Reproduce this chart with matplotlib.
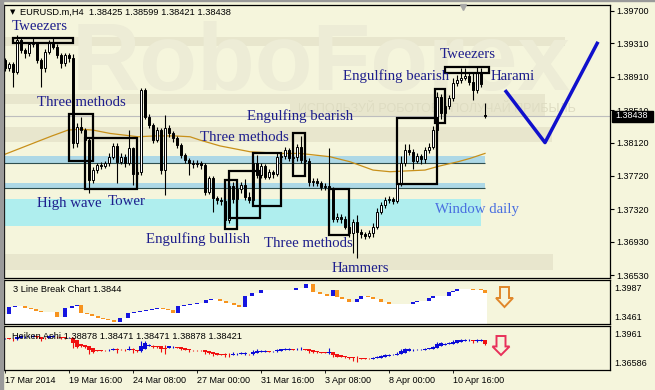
import numpy as np
import matplotlib.pyplot as plt
from matplotlib.patches import Rectangle, Polygon

plt.rcParams['font.family'] = ['Liberation Sans', 'DejaVu Sans']

W, H = 655, 390
BG = '#F5F5DC'

# ---------------------------------------------------------------- data
# EURUSD.m H4, bar 0 = 17 Mar 2014 00:00, prices in pips above 1.3600
first_open = 311
closes = [301, 306, 297, 335, 323, 319, 330, 331, 311, 301,
          321, 331, 327, 317, 307, 317, 313, 211, 231, 227,
          215, 167, 179, 185, 184, 187, 195, 208, 189, 195,
          187, 205, 174, 177, 275, 243, 233, 215, 227, 179,
          229, 223, 217, 209, 197, 191, 187, 186, 187, 185,
          153, 169, 145, 143, 142, 119, 160, 144, 156, 161,
          147, 143, 187, 173, 184, 171, 177, 174, 195, 196,
          203, 193, 195, 207, 191, 190, 165, 166, 163, 159,
          160, 157, 120, 123, 120, 111, 103, 117, 105, 102,
          100, 103, 111, 129, 137, 143, 144, 142, 163, 187,
          203, 201, 190, 196, 192, 203, 207, 227, 267, 247,
          256, 265, 283, 287, 289, 292, 285, 275, 295, 282,
          244]
highs = [314, 309, 309, 341, 338, 326, 333, 337, 333, 313,
         324, 335, 337, 330, 319, 320, 320, 318, 236, 243,
         230, 218, 183, 188, 189, 190, 199, 212, 211, 199,
         198, 227, 207, 181, 277, 277, 246, 236, 231, 230,
         245, 233, 226, 220, 211, 199, 194, 191, 191, 190,
         188, 172, 172, 148, 147, 162, 163, 165, 160, 165,
         168, 153, 191, 197, 188, 186, 180, 179, 200, 201,
         207, 206, 199, 210, 220, 195, 193, 170, 170, 166,
         164, 206, 159, 127, 126, 124, 114, 120, 125, 108,
         105, 107, 115, 133, 141, 147, 148, 147, 168, 196,
         210, 210, 204, 200, 198, 207, 212, 232, 273, 270,
         261, 269, 290, 293, 302, 302, 297, 295, 304, 302,
         259]
lows = [298, 298, 279, 294, 319, 314, 316, 327, 307, 279,
        297, 318, 324, 313, 302, 304, 309, 205, 207, 224,
        211, 151, 163, 176, 180, 181, 184, 192, 163, 186,
        183, 185, 161, 168, 173, 240, 230, 211, 213, 174,
        149, 219, 213, 205, 193, 187, 173, 182, 183, 180,
        149, 150, 129, 138, 137, 115, 116, 140, 141, 152,
        143, 140, 141, 170, 170, 168, 168, 170, 172, 191,
        192, 190, 188, 190, 188, 185, 160, 160, 160, 155,
        155, 153, 117, 117, 116, 108, 99, 79, 73, 97,
        96, 97, 99, 108, 126, 134, 140, 138, 139, 160,
        184, 197, 180, 187, 186, 188, 199, 204, 224, 240,
        244, 252, 262, 280, 284, 287, 281, 263, 272, 279,
        241]
last_open = 245  # the last bar opened after a gap

# moving average, read at a few bars (bar, pips)
ma_bars = [0, 3.75, 8, 11.75, 15.75, 18.75, 22, 26.25, 33.25, 37.5, 42.5, 46.25, 48.75,
           53.75, 61.25, 68.75, 73.75, 81.25, 86.25, 92, 96.25, 100.5, 105, 108.75,
           113.25, 116.25, 120]
ma_pips = [198, 205, 213, 220, 227, 228, 227, 223, 219, 220, 220, 219, 215,
           208, 201, 199, 199, 195, 189, 179, 177, 178, 179, 184,
           189, 193, 199]

last_price = 1.38438
zone_a = (1.37869, 1.37959)      # blue zone, line on the lower edge
zone_b = (1.37572, 1.37631)      # blue zone, line on the lower edge
window_daily = (1.37118, 1.37442)

# pattern boxes: (first bar, last bar, low pips, high pips)
pattern_boxes = [(2, 16.9, 332, 337), (16.1, 22, 190, 246), (20.05, 33.1, 156, 217),
                 (54.95, 57.95, 108, 167), (56.05, 63.75, 121, 178), (61.9, 68.95, 136, 199),
                 (71.9, 75, 172, 224), (81.05, 86.05, 101, 156), (98.1, 108.1, 162, 242),
                 (107.45, 109.95, 236, 276), (110.05, 121.05, 296, 303)]

# forecast path
fc_bars = [125, 135, 148.25]
fc_pips = [275, 212, 333]

# 3 line break chart
lb_start = 1.3498
lb_bars = [1, 2.5, 5, 6.5, 7.75, 9, 10.75, 13, 15, 16.75, 18, 19, 20.5, 21.75, 23.25, 24.5,
           25.75, 27.25, 28.75, 30.75, 32.25, 33.75, 35.25, 36.75, 38, 39.5, 40.75, 42, 43.25,
           44.75, 46.25, 48, 50.25, 51.5, 53.75, 55.25, 57.25, 58.5, 60, 61.75, 64, 72.75,
           75.25, 77, 78.75, 80.5, 82, 83, 84.25, 86, 88, 89, 90.75, 92, 94, 96, 102, 103,
           106, 107, 111, 112, 113, 117, 119, 120]
lb_values = [1.3627, 1.3646, 1.3609, 1.3581, 1.3553, 1.3526, 1.3544, 1.3443, 1.3609, 1.3646,
             1.3664, 1.3516, 1.3489, 1.3461, 1.3433, 1.3406, 1.3378, 1.3350, 1.3424, 1.3516,
             1.3535, 1.3553, 1.3572, 1.3590, 1.3609, 1.3590, 1.3572, 1.3516, 1.3646, 1.3664,
             1.3683, 1.3701, 1.3756, 1.3766, 1.3738, 1.3701, 1.3664, 1.3627, 1.3830, 1.3886,
             1.3941, 1.3978, 1.4052, 1.3904, 1.3867, 1.3830, 1.3941, 1.3812, 1.3775, 1.3719,
             1.3775, 1.3821, 1.3803, 1.3775, 1.3719, 1.3683, 1.3719, 1.3747, 1.3793, 1.3821,
             1.3904, 1.3928, 1.3954, 1.3945, 1.3937, 1.3886]

date_bars = [0, 16, 32, 48, 64, 80, 96, 112]
date_labels = ['17 Mar 2014', '19 Mar 16:00', '24 Mar 08:00', '27 Mar 00:00',
               '31 Mar 16:00', '3 Apr 08:00', '8 Apr 00:00', '10 Apr 16:00']
main_ticks = [1.39700, 1.39310, 1.38910, 1.38510, 1.38120, 1.37720, 1.37320, 1.36930, 1.36530]
lb_ticks = [1.3987, 1.3461]
ha_ticks = [1.3961, 1.36586]

# ---------------------------------------------------------------- prep
def price(p):
    return 1.36 + np.asarray(p, float) / 10000

c = np.array(closes, float)
o = np.array([first_open] + closes[:-1], float)
o[-1] = last_open
hi = np.array(highs, float)
lo = np.array(lows, float)
bars = np.arange(len(c))

# heiken ashi from the candles
ha_c = (o + hi + lo + c) / 4
ha_o = np.empty_like(ha_c)
ha_o[0] = (o[0] + c[0]) / 2
for i in range(1, len(c)):
    ha_o[i] = (ha_o[i - 1] + ha_c[i - 1]) / 2
ha_h = np.maximum.reduce([hi, ha_o, ha_c])
ha_l = np.minimum.reduce([lo, ha_o, ha_c])

XLIM = (-0.25, 151.25)

fig = plt.figure(figsize=(W / 100, H / 100), dpi=100, facecolor=BG)

def fx(x):
    return x / W

def fy(y):
    return 1 - y / H

main = fig.add_axes([fx(4), fy(278), 606 / W, 273 / H], facecolor=BG)
lb_ax = fig.add_axes([fx(4), fy(324), 606 / W, 44 / H], facecolor=BG)
ha_ax = fig.add_axes([fx(4), fy(370), 606 / W, 44 / H], facecolor=BG)

for ax in (main, lb_ax, ha_ax):
    ax.set_xlim(*XLIM)
    for s in ax.spines.values():
        s.set_linewidth(0.9)
        s.set_color('black')
    ax.yaxis.tick_right()
    ax.tick_params(axis='y', labelsize=6.5, length=3, width=0.8, pad=1.5)
    ax.tick_params(axis='x', bottom=False, labelbottom=False)

# ---------------------------------------------------------------- main chart
main.set_ylim(1.36494, 1.39772)
main.set_yticks(main_ticks)
main.set_yticklabels(['%.5f' % t for t in main_ticks])

def axfrac(xp, yp):
    return (xp - 4) / 606, (278 - yp) / 273

# faint watermark bands and text
for x0, x1, y0, y1 in [(4, 565, 37, 46), (4, 545, 94, 104), (290, 545, 104, 117),
                       (4, 552, 127, 142), (4, 553, 254, 270)]:
    ax0, ay1 = axfrac(x0, y0)
    ax1, ay0 = axfrac(x1, y1)
    main.add_patch(Rectangle((ax0, ay0), ax1 - ax0, ay1 - ay0, transform=main.transAxes,
                             color='#E8E6CD', lw=0, zorder=0.1))
wx, wy = axfrac(72, 90)
main.text(wx, wy, 'RoboForex', transform=main.transAxes, fontsize=68, fontweight='bold',
          color='#EDECD6', ha='left', va='baseline', zorder=0.2)
wx, wy = axfrac(298, 112)
main.text(wx, wy, 'ИСПОЛЬЗУЙ РОБОТОВ - ПОЛУЧАЙ ПРИБЫЛЬ', transform=main.transAxes,
          fontsize=9, color='#DEDCC2', ha='left', va='baseline', zorder=0.2)

# zones
main.fill_between([XLIM[0], 120], *zone_a, color='#ADD8E6', lw=0, zorder=0.5)
main.fill_between([XLIM[0], 120], *zone_b, color='#ADD8E6', lw=0, zorder=0.5)
main.fill_between([XLIM[0], 119], *window_daily, color='#AFEEEE', lw=0, zorder=0.5)
main.hlines([zone_a[0], zone_b[0]], XLIM[0], 120, color='#2F4F4F', lw=0.8, zorder=0.6)
main.axhline(last_price, color='#BEBEBE', lw=0.8, zorder=0.7)

# moving average
main.plot(ma_bars, price(ma_pips), color='#C8901A', lw=0.9, zorder=1)

# candles
main.vlines(bars, price(lo), price(hi), color='black', lw=0.8, zorder=3)
bot = np.minimum(o, c)
height = np.maximum(np.abs(c - o), 0.8) / 10000
up = c > o
main.bar(bars[up], height[up], bottom=price(bot[up]), width=0.6, color='white',
         edgecolor='black', lw=0.7, zorder=4)
main.bar(bars[~up], height[~up], bottom=price(bot[~up]), width=0.6, color='black',
         edgecolor='black', lw=0.7, zorder=4)

# pattern boxes
for b0, b1, p0, p1 in pattern_boxes:
    main.add_patch(Rectangle((b0, price(p0)), b1 - b0, price(p1) - price(p0), fill=False,
                             ec='black', lw=1.6, zorder=5))

# forecast
main.plot(fc_bars, price(fc_pips), color='#1010CC', lw=2.5, solid_capstyle='butt', zorder=6)

# shift marker
main.plot([0.757], [0.993], marker='v', ms=5, color='#A8A8A8', transform=main.transAxes,
          clip_on=False, zorder=6)

# pattern labels
navy = '#1E1E8C'
labels = [('Tweezers', 12, 30), ('Three methods', 37, 106), ('Engulfing bearish', 247, 120),
          ('Three methods', 200, 141), ('High wave', 37, 207), ('Tower', 108, 205),
          ('Engulfing bullish', 146, 243), ('Three methods', 264, 247), ('Hammers', 332, 272),
          ('Tweezers', 440, 58), ('Engulfing bearish', 343, 80), ('Harami', 491, 80)]
for s, x, y in labels:
    fig.text(fx(x), fy(y), s, family='Liberation Serif', fontsize=10.7, color=navy,
             ha='left', va='baseline', zorder=7)
fig.text(fx(435), fy(213), 'Window daily', family='Liberation Serif', fontsize=10.7,
         color='#4A6FE0', ha='left', va='baseline', zorder=7)

# header
fig.text(fx(13), fy(12.5), '▼', family='DejaVu Sans', fontsize=5, color='black',
         ha='center', va='center')
fig.text(fx(20), fy(12.5), 'EURUSD.m,H4  1.38425 1.38599 1.38421 1.38438', fontsize=6.7,
         color='black', ha='left', va='center')

# current price tag
fig.patches.append(Rectangle((fx(612), fy(121.5)), 41 / W, 11 / H, transform=fig.transFigure,
                             color='black', zorder=8))
fig.text(fx(615), fy(116), '%.5f' % last_price, fontsize=6.5, color='white',
         ha='left', va='center', zorder=9)

# ---------------------------------------------------------------- 3 line break
lb_ax.set_ylim(1.33134, 1.41254)
lb_ax.set_yticks(lb_ticks)
lb_ax.set_yticklabels(['%.4f' % t for t in lb_ticks])
lb_ax.tick_params(axis='y', length=0, pad=3)
xs = [XLIM[0]] + lb_bars + [120.5]
ys = [lb_start] + lb_values + [lb_values[-1]]
lb_ax.fill_between(xs, ys, 1.33134, step='post', color='white', lw=0, zorder=1)
prev = np.array([lb_start] + lb_values[:-1])
cur = np.array(lb_values)
lb_col = np.where(cur > prev, '#1515E0', '#F7931E')
lb_ax.bar(lb_bars, np.maximum(np.abs(cur - prev), 0.0015), bottom=np.minimum(cur, prev),
          width=1.1, color=lb_col, lw=0, zorder=2)
lb_ax.text(9 / 606, 1 - 10 / 44, '3 Line Break Chart 1.3844', transform=lb_ax.transAxes,
           fontsize=6.7, ha='left', va='center', zorder=3)

# ---------------------------------------------------------------- heiken ashi
ha_ax.set_ylim(1.35880, 1.40316)
ha_ax.set_yticks(ha_ticks)
ha_ax.set_yticklabels(['1.3961', '1.36586'])
ha_ax.tick_params(axis='y', length=0, pad=3)
ha_up = ha_c >= ha_o
ha_col = np.where(ha_up, '#0A0AD8', '#F01010')
ha_ax.vlines(bars, price(ha_l), price(ha_h), colors=ha_col, lw=0.8, zorder=2)
ha_ax.bar(bars, np.maximum(np.abs(ha_c - ha_o), 1.0) / 10000,
          bottom=price(np.minimum(ha_o, ha_c)), width=0.8, color=ha_col, lw=0, zorder=3)
ha_ax.text(8 / 606, 1 - 10.5 / 44, 'Heiken Ashi 1.38878 1.38471 1.38471 1.38878 1.38421',
           transform=ha_ax.transAxes, fontsize=6.7, ha='left', va='center', zorder=4)
ha_ax.set_xticks(date_bars)
ha_ax.set_xticklabels(date_labels)
ha_ax.tick_params(axis='x', bottom=True, labelbottom=True, length=2, width=0.6,
                  labelsize=6.5, pad=2)
for t in ha_ax.get_xticklabels():
    t.set_ha('left')

# ---------------------------------------------------------------- signal arrows
def down_arrow(xc, y0, y1, color):
    neck = y0 + (y1 - y0) * 0.55
    pts = [(xc - 4.5, y0), (xc + 4.5, y0), (xc + 4.5, neck), (xc + 8.5, neck), (xc, y1),
           (xc - 8.5, neck), (xc - 4.5, neck)]
    fig.patches.append(Polygon([(fx(x), fy(y)) for x, y in pts], closed=True, fill=False,
                               ec=color, lw=1.4, transform=fig.transFigure, zorder=5))

down_arrow(504.5, 287, 307, '#E0862A')
down_arrow(501, 336, 355, '#E8305A')

# window frame
fig.patches.append(Rectangle((0, 0), 2.5 / W, 1, transform=fig.transFigure,
                             color='#9A9A9A', zorder=10))
fig.patches.append(Rectangle((0, 1 - 1.2 / H), 1, 1.2 / H, transform=fig.transFigure,
                             color='#9A9A9A', zorder=10))

fig.savefig('out.png', dpi=100, facecolor=BG)
